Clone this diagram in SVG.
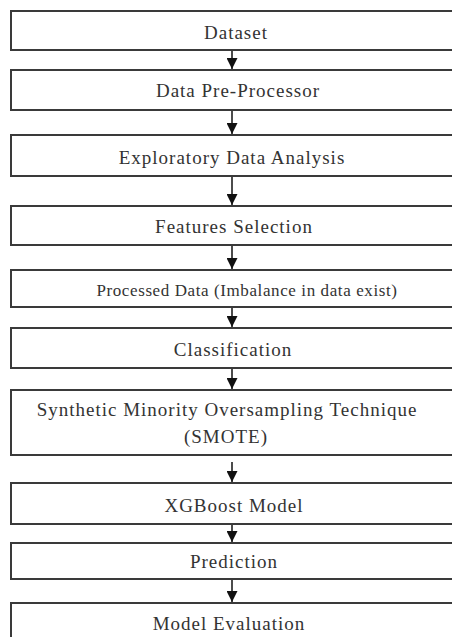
<svg xmlns="http://www.w3.org/2000/svg" width="452" height="637" viewBox="0 0 452 637">
<style>
.box{fill:#fff;stroke:#3a3a3a;stroke-width:2}
.t{font-family:"Liberation Serif","Times New Roman",serif;font-size:19px;fill:#333;text-anchor:middle;letter-spacing:1px}
.s{font-size:17px;letter-spacing:0.6px}
.c{stroke:#111;stroke-width:1.5;fill:none}
</style>
<defs>
<marker id="ah" viewBox="0 0 10 10" refX="10" refY="5" markerWidth="11" markerHeight="11" markerUnits="userSpaceOnUse" orient="auto">
<path d="M0,0 L10,5 L0,10 Z" fill="#111"/>
</marker>
</defs>
<rect width="452" height="637" fill="#fff"/>
<g id="connectors">
<line class="c" x1="232" y1="51" x2="232" y2="69" marker-end="url(#ah)"/>
<line class="c" x1="232" y1="111" x2="232" y2="134" marker-end="url(#ah)"/>
<line class="c" x1="232" y1="177" x2="232" y2="205" marker-end="url(#ah)"/>
<line class="c" x1="232" y1="246" x2="232" y2="269" marker-end="url(#ah)"/>
<line class="c" x1="232" y1="308" x2="232" y2="327" marker-end="url(#ah)"/>
<line class="c" x1="232" y1="369" x2="232" y2="389" marker-end="url(#ah)"/>
<line class="c" x1="232" y1="462" x2="232" y2="482" marker-end="url(#ah)"/>
<line class="c" x1="232" y1="525" x2="232" y2="542" marker-end="url(#ah)"/>
<line class="c" x1="232" y1="580" x2="232" y2="602" marker-end="url(#ah)"/>
</g>
<g id="n1"><rect class="box" x="11" y="11" width="460" height="39"/><text class="t" x="236" y="39">Dataset</text></g>
<g id="n2"><rect class="box" x="11" y="70" width="460" height="40"/><text class="t" x="238" y="97">Data Pre-Processor</text></g>
<g id="n3"><rect class="box" x="11" y="135" width="460" height="41"/><text class="t" x="232" y="164">Exploratory Data Analysis</text></g>
<g id="n4"><rect class="box" x="11" y="206" width="460" height="39"/><text class="t" x="234" y="233">Features Selection</text></g>
<g id="n5"><rect class="box" x="11" y="270" width="460" height="37"/><text class="t s" x="247" y="296">Processed Data (Imbalance in data exist)</text></g>
<g id="n6"><rect class="box" x="11" y="328" width="460" height="40"/><text class="t" x="233" y="356">Classification</text></g>
<g id="n7"><rect class="box" x="11" y="390" width="460" height="65"/><text class="t" x="227" y="416">Synthetic Minority Oversampling Technique</text><text class="t" x="226" y="443">(SMOTE)</text></g>
<g id="n8"><rect class="box" x="11" y="483" width="460" height="41"/><text class="t" x="234" y="512">XGBoost Model</text></g>
<g id="n9"><rect class="box" x="11" y="543" width="460" height="36"/><text class="t" x="234" y="568">Prediction</text></g>
<g id="n10"><rect class="box" x="11" y="603" width="460" height="60"/><text class="t" x="229" y="630">Model Evaluation</text></g>
</svg>
